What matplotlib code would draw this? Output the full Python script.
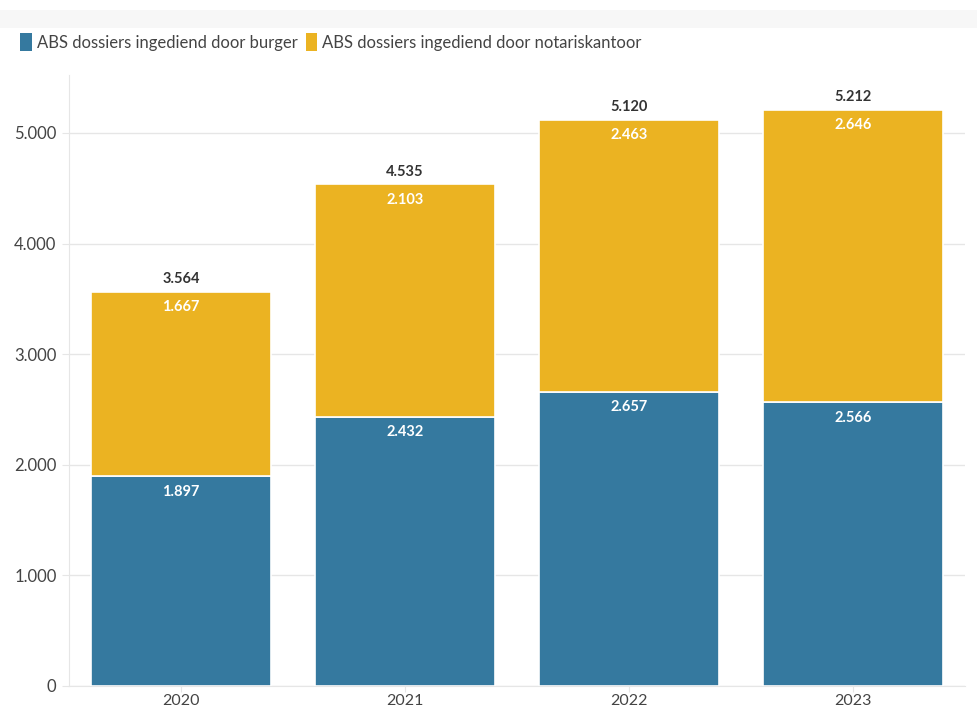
import matplotlib
matplotlib.use("Agg")
import matplotlib.pyplot as plt
from matplotlib.patches import Rectangle

years = ["2020", "2021", "2022", "2023"]
burger = [1897, 2432, 2657, 2566]
notaris = [1667, 2103, 2463, 2646]
series_names = ["ABS dossiers ingediend door burger", "ABS dossiers ingediend door notariskantoor"]
yticks = [0, 1000, 2000, 3000, 4000, 5000]
ytick_labels = ["0", "1.000", "2.000", "3.000", "4.000", "5.000"]

BLUE = "#35799f"
YELLOW = "#ebb322"

plt.rcParams['font.family'] = ['Lato', 'DejaVu Sans']

def fmt(v):
    return f"{v:,}".replace(",", ".")

fig = plt.figure(figsize=(9.78, 7.11), dpi=100)
fig.patches.append(Rectangle((0, 1 - 28/711), 1, 18/711, transform=fig.transFigure,
                             facecolor="#f7f7f7", edgecolor="none"))
ax = fig.add_axes([69/978, 25/711, (965-69)/978, (686-75)/711])

x = list(range(len(years)))
ax.bar(x, burger, width=0.8, color=BLUE, edgecolor="white", linewidth=1.2, zorder=2)
ax.bar(x, notaris, width=0.8, bottom=burger, color=YELLOW, edgecolor="white", linewidth=1.2, zorder=2)

for i in x:
    b, n = burger[i], notaris[i]
    t = b + n
    ax.annotate(fmt(b), (i, b), xytext=(0, -6), textcoords="offset points", ha="center", va="top",
                color="white", fontsize=10.5, fontweight="bold", zorder=3)
    ax.annotate(fmt(n), (i, t), xytext=(0, -6), textcoords="offset points", ha="center", va="top",
                color="white", fontsize=10.5, fontweight="bold", zorder=3)
    ax.annotate(fmt(t), (i, t), xytext=(0, 4), textcoords="offset points", ha="center", va="bottom",
                color="#333333", fontsize=10.5, fontweight="bold", zorder=3)

ax.set_xlim(-0.5, 3.5)
ax.set_ylim(0, 5524)
ax.set_yticks(yticks)
ax.set_yticklabels(ytick_labels)
ax.set_xticks(x)
ax.set_xticklabels(years)
ax.grid(axis="y", color="#e6e6e6", linewidth=1, zorder=0)
ax.set_axisbelow(True)
for s in ["top", "right"]:
    ax.spines[s].set_visible(False)
ax.spines["left"].set_color("#e6e6e6")
ax.spines["bottom"].set_color("#e6e6e6")
ax.tick_params(axis="y", length=5, color="#e6e6e6", labelsize=12, labelcolor="#444444", pad=4)
ax.tick_params(axis="x", length=4, color="#e6e6e6", labelsize=11.5, labelcolor="#444444", pad=1.5)

handles = [Rectangle((0, 0), 1, 1, facecolor=BLUE), Rectangle((0, 0), 1, 1, facecolor=YELLOW)]
fig.legend(handles, series_names, loc="upper left", bbox_to_anchor=(5/978, 1 - 18/711), ncol=2,
           frameon=False, fontsize=12, handlelength=0.7, handleheight=1.3, handletextpad=0.3,
           columnspacing=0.5, labelcolor="#444444")

fig.savefig("out.png", dpi=100)
